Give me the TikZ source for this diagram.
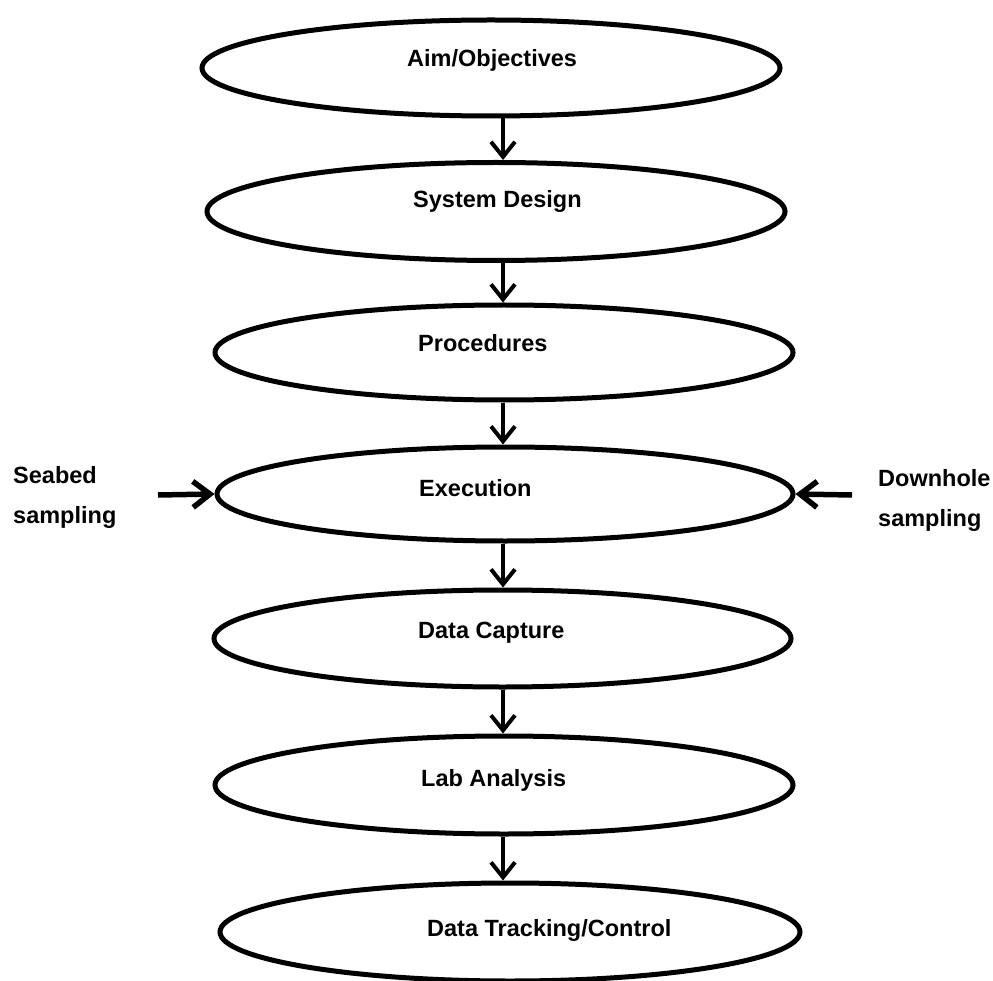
\documentclass[tikz,border=0pt]{standalone}
\usepackage{fontspec}
\setmainfont{Liberation Sans}
\usetikzlibrary{shapes.geometric,arrows.meta}
\begin{document}
\begin{tikzpicture}[x=1pt,y=-1pt,
  stage/.style={ellipse,draw,line width=5pt,minimum width=578pt,minimum height=96pt,inner sep=0pt},
  lbl/.style={anchor=base west,inner sep=0pt,font=\fontsize{23.5}{28}\selectfont\bfseries},
  side/.style={anchor=north west,inner sep=0pt,align=left,font=\fontsize{23.5}{40}\selectfont\bfseries},
  flow/.style={line width=4pt,-{Straight Barb[length=15pt,width=24pt]}},
  feed/.style={line width=5.5pt,-{Straight Barb[length=17pt,width=26pt]}}]
\useasboundingbox (0,0) rectangle (993,981);
% ellipses
\node[stage] (e1) at (491,68) {};
\node[stage,minimum height=98pt] (e2) at (496,211.5) {};
\node[stage,minimum height=95pt] (e3) at (504,352.5) {};
\node[stage,minimum width=576pt,minimum height=94pt] (e4) at (505,494) {};
\node[stage,minimum width=577pt,minimum height=97pt] (e5) at (502.5,638.5) {};
\node[stage,minimum height=98pt] (e6) at (504,785) {};
\node[stage,minimum width=580pt,minimum height=98pt] (e7) at (510,932) {};
% texts
\node[lbl] (t1) at (407,67) {Aim/Objectives};
\node[lbl] (t2) at (413,208) {System Design};
\node[lbl] (t3) at (418,352) {Procedures};
\node[lbl] (t4) at (419,496) {Execution};
\node[lbl] (t5) at (418,638) {Data Capture};
\node[lbl] (t6) at (421,786) {Lab Analysis};
\node[lbl] (t7) at (427,936) {Data Tracking/Control};
\node[side] (sb) at (13,466) {Seabed\\sampling};
\node[side] (dh) at (878,469) {Downhole\\sampling};
% connectors
\coordinate (ax) at (503,0);
\draw[flow] (e1.south -| ax) -- (e2.north -| ax);
\draw[flow] (e2.south -| ax) -- (e3.north -| ax);
\draw[flow] (e3.south -| ax) -- (e4.north -| ax);
\draw[flow] (e4.south -| ax) -- (e5.north -| ax);
\draw[flow] (e5.south -| ax) -- (e6.north -| ax);
\draw[flow] (e6.south -| ax) -- (e7.north -| ax);
\coordinate (sL) at (158,495);
\coordinate (sR) at (852,495);
\draw[feed] (sL) -- (e4.west);
\draw[feed] (sR) -- (e4.east);
\end{tikzpicture}
\end{document}
